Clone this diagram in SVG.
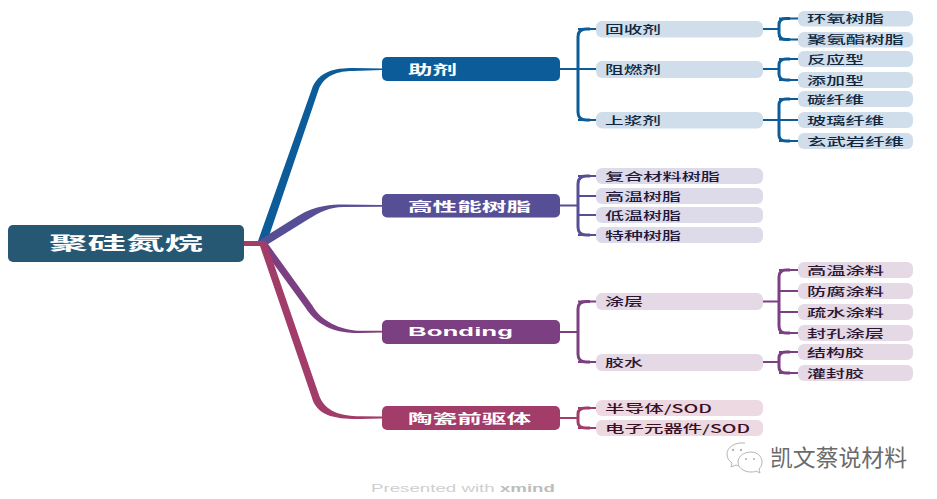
<svg xmlns="http://www.w3.org/2000/svg" width="937" height="499" viewBox="0 0 937 499">
<style>
text{font-family:"Noto Sans CJK SC","Liberation Sans",sans-serif}
.root,.l1{fill:#fff;font-weight:700}
.root{font-size:18px}
.l1{font-size:13px}
.l2{font-size:11px;font-weight:500}
.b{fill:#cfdeea}.p{fill:#dddbe9}.m{fill:#e4d9e5}.r{fill:#ecd9e2}
.tb{fill:#12283f}.tp{fill:#1f1a3d}.tm{fill:#2c1530}.tr{fill:#3a1024}
.sb,.sp,.sm,.sr{fill:none;stroke-linecap:butt}
.sb{stroke:#0b5c99}.sp{stroke:#574f96}.sm{stroke:#7b3f82}.sr{stroke:#a23c69}
.w1{stroke-width:2}.w2{stroke-width:3}
</style>
<rect width="937" height="499" fill="#fff"/>
<g id="connectors">
<path fill="#0b5c99" d="M258,241 L311.500,90 C318,71 335,68 353,68 L382,68.500 V70 L353,71 C338,71 324,75 318.500,90 L267,242 Z"/>
<path fill="#574f96" d="M258,241 L298,216 C316,205 332,204.500 343,204.500 L382,205 V206.700 L343,207 C330,207 320,212 307,220 L265,246 Z"/>
<path fill="#7b3f82" d="M260,245 L305,307 C320,331 345,333.500 360,333 L382,332.500 V330.800 L360,330.800 C347,330.500 323,325 312,305 L268,244 Z"/>
<path fill="#a23c69" d="M244,241 H266 L268,247 L318.300,393 C324,413 343,416 360,416.300 L382,416.500 V418.500 L360,419 C340,419 317,418 311.700,397 L260,246 H244 Z"/>
<g class="sb w1"><path d="M560,69H578M763,29H779M763,69H779M763,120H779"/><path d="M578,29H596M578,69H596M578,120H596M779,18.500H798M779,39.500H798M779,59H798M779,80H798M779,99H798M779,120H798M779,141H798"/></g>
<g class="sb w2"><path d="M590,29H586Q578,29 578,37V112Q578,120 586,120H590"/><path d="M790,18.500H786Q779,18.500 779,25V33Q779,39.500 786,39.500H790"/><path d="M790,59H786Q779,59 779,65V74Q779,80 786,80H790"/><path d="M790,99H786Q779,99 779,105V135Q779,141 786,141H790"/></g>
<g class="sp w1"><path d="M560,205.500H578M578,176H596M578,196H596M578,215H596M578,235H596"/></g>
<g class="sp w2"><path d="M590,176H586Q578,176 578,184V227Q578,235 586,235H590"/></g>
<g class="sm w1"><path d="M560,332H578M763,301.500H779M763,362H779M578,301.500H596M578,362H596M779,270H798M779,291H798M779,312H798M779,333H798M779,352H798M779,373H798"/></g>
<g class="sm w2"><path d="M590,301.500H586Q578,301.500 578,309V354Q578,362 586,362H590"/><path d="M790,270H786Q779,270 779,277V326Q779,333 786,333H790"/><path d="M790,352H786Q779,352 779,358V367Q779,373 786,373H790"/></g>
<g class="sr w1"><path d="M560,418H578M578,408H596M578,428H596"/></g>
<g class="sr w2"><path d="M590,408H586Q578,408 578,414V422Q578,428 586,428H590"/></g>
</g>

<g id="root"><rect x="8" y="225" width="236" height="37" rx="5" fill="#265873"/><text class="root" x="49" y="250" textLength="154" lengthAdjust="spacingAndGlyphs">聚硅氮烷</text></g>

<g id="n-zhuji"><rect x="382" y="57" width="178" height="24" rx="5" fill="#0b5c99"/><text class="l1" x="408" y="74" textLength="49" lengthAdjust="spacingAndGlyphs">助剂</text></g>
<g id="n-gaoxing"><rect x="382" y="194" width="178" height="23.500" rx="5" fill="#574f96"/><text class="l1" x="408" y="211" textLength="123" lengthAdjust="spacingAndGlyphs">高性能树脂</text></g>
<g id="n-bonding"><rect x="382" y="320" width="178" height="24" rx="5" fill="#7b3f82"/><text class="l1" x="408" y="336" textLength="105" lengthAdjust="spacingAndGlyphs" style="font-family:'Liberation Sans',sans-serif">Bonding</text></g>
<g id="n-taoci"><rect x="382" y="406" width="178" height="24" rx="5" fill="#a23c69"/><text class="l1" x="408" y="423" textLength="123" lengthAdjust="spacingAndGlyphs">陶瓷前驱体</text></g>

<g id="n-huishou"><rect class="b" x="596" y="21" width="167" height="16.500" rx="6"/><text class="l2 tb" x="605" y="33.500" textLength="56" lengthAdjust="spacingAndGlyphs">回收剂</text></g>
<g id="n-zuran"><rect class="b" x="596" y="61" width="167" height="17" rx="6"/><text class="l2 tb" x="605" y="73.500" textLength="56" lengthAdjust="spacingAndGlyphs">阻燃剂</text></g>
<g id="n-shangjiang"><rect class="b" x="596" y="112" width="167" height="16.500" rx="6"/><text class="l2 tb" x="605" y="124.500" textLength="56" lengthAdjust="spacingAndGlyphs">上浆剂</text></g>

<g id="n-huanyang"><rect class="b" x="798" y="11" width="115" height="15.500" rx="6"/><text class="l2 tb" x="807" y="23" textLength="77" lengthAdjust="spacingAndGlyphs">环氧树脂</text></g>
<g id="n-juanzhi"><rect class="b" x="798" y="32" width="115" height="15.500" rx="6"/><text class="l2 tb" x="807" y="44" textLength="97" lengthAdjust="spacingAndGlyphs">聚氨酯树脂</text></g>
<g id="n-fanying"><rect class="b" x="798" y="51" width="115" height="16" rx="6"/><text class="l2 tb" x="807" y="63.500" textLength="57" lengthAdjust="spacingAndGlyphs">反应型</text></g>
<g id="n-tianjia"><rect class="b" x="798" y="72" width="115" height="16" rx="6"/><text class="l2 tb" x="807" y="84.500" textLength="57" lengthAdjust="spacingAndGlyphs">添加型</text></g>
<g id="n-tan"><rect class="b" x="798" y="91" width="115" height="16" rx="6"/><text class="l2 tb" x="807" y="103.500" textLength="57" lengthAdjust="spacingAndGlyphs">碳纤维</text></g>
<g id="n-boli"><rect class="b" x="798" y="112" width="115" height="16" rx="6"/><text class="l2 tb" x="807" y="124.500" textLength="77" lengthAdjust="spacingAndGlyphs">玻璃纤维</text></g>
<g id="n-xuanwu"><rect class="b" x="798" y="133" width="115" height="16" rx="6"/><text class="l2 tb" x="807" y="145.500" textLength="97" lengthAdjust="spacingAndGlyphs">玄武岩纤维</text></g>

<g id="n-fuhe"><rect class="p" x="596" y="168" width="167" height="16" rx="6"/><text class="l2 tp" x="605" y="180.500" textLength="115" lengthAdjust="spacingAndGlyphs">复合材料树脂</text></g>
<g id="n-gaowen"><rect class="p" x="596" y="188" width="167" height="16" rx="6"/><text class="l2 tp" x="605" y="200.500" textLength="76" lengthAdjust="spacingAndGlyphs">高温树脂</text></g>
<g id="n-diwen"><rect class="p" x="596" y="207" width="167" height="16" rx="6"/><text class="l2 tp" x="605" y="219.500" textLength="76" lengthAdjust="spacingAndGlyphs">低温树脂</text></g>
<g id="n-tezhong"><rect class="p" x="596" y="227" width="167" height="16" rx="6"/><text class="l2 tp" x="605" y="239.500" textLength="76" lengthAdjust="spacingAndGlyphs">特种树脂</text></g>

<g id="n-tuceng"><rect class="m" x="596" y="293" width="167" height="17" rx="6"/><text class="l2 tm" x="605" y="306" textLength="38" lengthAdjust="spacingAndGlyphs">涂层</text></g>
<g id="n-jiaoshui"><rect class="m" x="596" y="354" width="167" height="17" rx="6"/><text class="l2 tm" x="605" y="366.500" textLength="38" lengthAdjust="spacingAndGlyphs">胶水</text></g>
<g id="n-gaowentu"><rect class="m" x="798" y="262" width="115" height="16" rx="6"/><text class="l2 tm" x="807" y="274.500" textLength="77" lengthAdjust="spacingAndGlyphs">高温涂料</text></g>
<g id="n-fangfu"><rect class="m" x="798" y="283" width="115" height="16" rx="6"/><text class="l2 tm" x="807" y="295.500" textLength="77" lengthAdjust="spacingAndGlyphs">防腐涂料</text></g>
<g id="n-shushui"><rect class="m" x="798" y="304" width="115" height="16" rx="6"/><text class="l2 tm" x="807" y="316.500" textLength="77" lengthAdjust="spacingAndGlyphs">疏水涂料</text></g>
<g id="n-fengkong"><rect class="m" x="798" y="325" width="115" height="16" rx="6"/><text class="l2 tm" x="807" y="337.500" textLength="77" lengthAdjust="spacingAndGlyphs">封孔涂层</text></g>
<g id="n-jiegou"><rect class="m" x="798" y="344" width="115" height="16" rx="6"/><text class="l2 tm" x="807" y="356.500" textLength="57" lengthAdjust="spacingAndGlyphs">结构胶</text></g>
<g id="n-guanfeng"><rect class="m" x="798" y="365" width="115" height="16" rx="6"/><text class="l2 tm" x="807" y="377.500" textLength="57" lengthAdjust="spacingAndGlyphs">灌封胶</text></g>

<g id="n-bandaoti"><rect class="r" x="596" y="400" width="167" height="16" rx="6"/><text class="l2 tr" x="605" y="412.500" textLength="107" lengthAdjust="spacingAndGlyphs">半导体/SOD</text></g>
<g id="n-dianzi"><rect class="r" x="596" y="420" width="167" height="16" rx="6"/><text class="l2 tr" x="605" y="432.500" textLength="145" lengthAdjust="spacingAndGlyphs">电子元器件/SOD</text></g>

<g id="watermark">
<path d="M745,443C735,442 727,447 727,454C727,458 729,461 732,463L731,467L736,465C738,466 740,466 742,466" fill="#fff" stroke="#b5b5b5" stroke-width="1"/>
<path d="M751,452C743,452 738,457 738,462C738,468 744,472 751,472C753,472 755,472 756,471L760,473L759,469C761,467 762,465 762,462C762,457 758,452 751,452Z" fill="#fff" stroke="#b5b5b5" stroke-width="1"/>
<circle cx="733" cy="450" r="1.200" fill="#b5b5b5"/><circle cx="741" cy="450" r="1.200" fill="#b5b5b5"/>
<circle cx="746" cy="459" r="1.100" fill="#b5b5b5"/><circle cx="754" cy="459" r="1.100" fill="#b5b5b5"/>
<text x="770" y="466" font-size="22.500" fill="#6b6b6b" textLength="137" lengthAdjust="spacingAndGlyphs">凯文蔡说材料</text>
</g>
<text x="371" y="492" font-size="10" fill="#cfcfcf" textLength="184" lengthAdjust="spacingAndGlyphs" style="font-family:'Liberation Sans',sans-serif">Presented with <tspan font-weight="700" fill="#bdbdbd">xmind</tspan></text>
</svg>
